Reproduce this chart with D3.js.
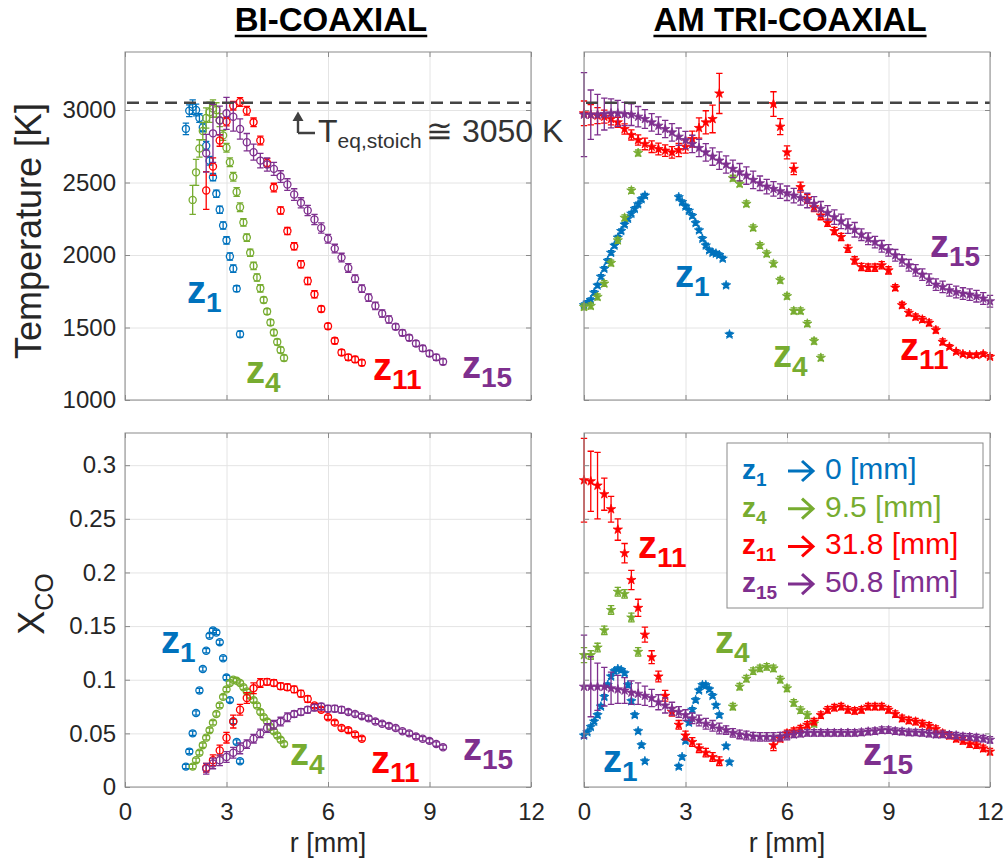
<!DOCTYPE html>
<html>
<head>
<meta charset="utf-8">
<script src="https://cdn.jsdelivr.net/npm/d3@7"></script>
<style>
  body { margin: 0; background: #fff; }
  svg { display: block; }
  text { font-family: "Liberation Sans", Arial, sans-serif; }
</style>
</head>
<body>
<div id="container"></div>
<script>
// ---- ticks / constants ----
const X_TICKS = [0, 3, 6, 9, 12];
const T_TICKS = [1000, 1500, 2000, 2500, 3000];
const XCO_TICKS = [0, 0.05, 0.1, 0.15, 0.2, 0.25, 0.3];
const T_STOICH = 3050;

// ---- BI-COAXIAL temperature [r, T, err] ----
const biT_z1 = [[1.8,2870,40],[1.9,2995,40],[2.0,3020,50],[2.1,3000,40],[2.2,2945,30],[2.3,2880,30],[2.4,2754,30],[2.5,2650,30],[2.6,2537,25],[2.7,2422,25],[2.8,2312,25],[2.9,2204,25],[3.0,2101,25],[3.1,1990,25],[3.2,1906,25],[3.3,1768,20],[3.4,1454,20]];
const biT_z4 = [[2.0,2380,100],[2.1,2570,90],[2.2,2735,60],[2.3,2855,60],[2.4,2945,70],[2.5,2985,70],[2.6,3010,60],[2.7,3000,50],[2.8,2930,45],[2.9,2825,35],[3.0,2740,30],[3.1,2640,30],[3.2,2540,30],[3.3,2435,30],[3.4,2330,30],[3.5,2225,25],[3.6,2120,25],[3.7,2015,25],[3.8,1925,25],[3.9,1845,25],[4.0,1770,25],[4.1,1690,20],[4.2,1610,20],[4.3,1535,20],[4.4,1465,20],[4.5,1400,20],[4.6,1345,20],[4.7,1290,20]];
const biT_z11 = [[2.4,2445,130],[2.6,2610,60],[2.8,2790,40],[3.0,2920,30],[3.2,3030,30],[3.4,3055,30],[3.6,2995,30],[3.8,2915,30],[4.0,2790,30],[4.2,2635,30],[4.4,2465,30],[4.6,2307,25],[4.8,2165,25],[5.0,2060,25],[5.2,1936,25],[5.4,1821,25],[5.6,1729,25],[5.8,1628,20],[6.0,1509,20],[6.2,1408,20],[6.4,1328,20],[6.6,1294,20],[6.8,1280,20],[7.0,1257,20]];
const biT_z15 = [[2.4,2702,130],[2.6,2839,200],[2.8,2927,100],[3.0,2977,110],[3.2,2954,100],[3.4,2869,70],[3.6,2778,60],[3.8,2709,55],[4.0,2651,50],[4.2,2624,45],[4.4,2594,45],[4.6,2541,40],[4.8,2486,40],[5.0,2417,40],[5.2,2360,35],[5.4,2307,35],[5.6,2245,35],[5.8,2186,35],[6.0,2112,30],[6.2,2044,30],[6.4,1982,30],[6.6,1911,30],[6.8,1837,25],[7.0,1768,25],[7.2,1706,25],[7.4,1649,25],[7.6,1596,25],[7.8,1555,25],[8.0,1505,20],[8.2,1463,20],[8.4,1429,20],[8.6,1390,20],[8.8,1356,20],[9.0,1321,20],[9.2,1294,20],[9.4,1264,20]];

// ---- AM TRI-COAXIAL temperature [r, T, err] ----
const amT_z1 = [[0,1654,15],[0.1,1670,15],[0.2,1690,15],[0.3,1740,15],[0.4,1790,15],[0.5,1850,15],[0.6,1905,15],[0.7,1960,15],[0.8,2015,15],[0.9,2065,15],[1.0,2120,15],[1.1,2165,15],[1.2,2210,15],[1.3,2250,15],[1.4,2285,15],[1.5,2318,15],[1.6,2350,15],[1.7,2385,15],[1.8,2410,15],[2.8,2399,15],[2.9,2365,15],[3.0,2335,15],[3.1,2305,15],[3.2,2270,15],[3.3,2220,15],[3.4,2170,15],[3.5,2112,15],[3.6,2066,15],[3.7,2032,15],[3.8,2016,15],[3.9,2010,15],[4.0,2000,15],[4.1,1975,15],[4.2,1791,15],[4.3,1452,15]];
const amT_z4 = [[0,1642,20],[0.2,1649,20],[0.4,1711,20],[0.6,1803,20],[0.8,1945,20],[1.0,2101,20],[1.2,2257,20],[1.4,2445,20],[1.6,2704,20],[4.4,2530,20],[4.6,2491,20],[4.8,2353,20],[5.0,2188,20],[5.2,2066,20],[5.4,2009,20],[5.6,1940,20],[5.8,1826,20],[6.0,1716,20],[6.2,1615,20],[6.4,1615,20],[6.6,1527,20],[6.8,1406,20],[7.0,1291,20]];
const amT_z11 = [[0,2977,85],[0.2,2968,70],[0.4,2961,55],[0.6,2954,45],[0.8,2938,40],[1.0,2915,35],[1.2,2869,35],[1.4,2828,35],[1.6,2793,35],[1.8,2766,40],[2.0,2747,40],[2.2,2731,40],[2.4,2720,40],[2.6,2708,40],[2.8,2724,45],[3.0,2747,45],[3.2,2800,55],[3.4,2876,70],[3.6,2915,80],[3.8,2938,95],[4.0,3114,138],[5.6,3041,85],[5.8,2885,55],[6.0,2708,45],[6.2,2594,40],[6.4,2468,35],[6.6,2387,30],[6.8,2330,30],[7.0,2273,30],[7.2,2222,25],[7.4,2165,25],[7.6,2124,25],[7.8,2043,25],[8.0,1963,25],[8.2,1917,25],[8.4,1913,25],[8.6,1913,25],[8.8,1929,25],[9.0,1894,25],[9.2,1775,20],[9.4,1654,20],[9.6,1601,20],[9.8,1573,20],[10.0,1555,20],[10.2,1532,20],[10.4,1482,20],[10.6,1401,20],[10.8,1367,15],[11.0,1333,15],[11.2,1316,15],[11.4,1310,15],[11.6,1310,15],[11.8,1316,15],[12.0,1298,15]];
const amT_z15 = [[0,2968,290],[0.2,2968,170],[0.4,2968,140],[0.6,2972,110],[0.8,2977,100],[1.0,2977,90],[1.2,2972,80],[1.4,2968,75],[1.6,2954,70],[1.8,2938,65],[2.0,2915,60],[2.2,2892,60],[2.4,2869,60],[2.6,2846,60],[2.8,2816,60],[3.0,2793,60],[3.2,2766,60],[3.4,2738,60],[3.6,2708,60],[3.8,2679,60],[4.0,2651,60],[4.2,2624,60],[4.4,2594,60],[4.6,2571,60],[4.8,2548,60],[5.0,2518,60],[5.2,2495,50],[5.4,2472,50],[5.6,2456,50],[5.8,2440,50],[6.0,2426,50],[6.2,2410,50],[6.4,2394,50],[6.6,2376,50],[6.8,2353,50],[7.0,2319,50],[7.2,2291,50],[7.4,2261,50],[7.6,2232,50],[7.8,2199,50],[8.0,2174,50],[8.2,2140,40],[8.4,2112,40],[8.6,2089,40],[8.8,2060,40],[9.0,2032,40],[9.2,1998,40],[9.4,1963,40],[9.6,1929,40],[9.8,1894,40],[10.0,1865,40],[10.2,1830,40],[10.4,1796,40],[10.6,1780,40],[10.8,1757,40],[11.0,1745,40],[11.2,1734,40],[11.4,1727,40],[11.6,1716,40],[11.8,1700,40],[12.0,1681,40]];

// ---- BI-COAXIAL X_CO [r, X, err] ----
const biX_z1 = [[1.8,0.019,0.002],[1.9,0.033,0.002],[2.0,0.050,0.002],[2.1,0.069,0.002],[2.2,0.090,0.002],[2.3,0.110,0.002],[2.4,0.127,0.002],[2.5,0.141,0.002],[2.6,0.146,0.002],[2.7,0.144,0.002],[2.8,0.135,0.002],[2.9,0.120,0.002],[3.0,0.102,0.002],[3.1,0.081,0.002],[3.2,0.061,0.002],[3.3,0.042,0.002],[3.4,0.024,0.002]];
const biX_z4 = [[2.0,0.019,0.002],[2.1,0.025,0.002],[2.2,0.032,0.002],[2.3,0.039,0.002],[2.4,0.046,0.002],[2.5,0.053,0.002],[2.6,0.060,0.002],[2.7,0.068,0.002],[2.8,0.076,0.002],[2.9,0.084,0.002],[3.0,0.091,0.002],[3.1,0.097,0.002],[3.2,0.100,0.002],[3.3,0.099,0.002],[3.4,0.097,0.002],[3.5,0.093,0.002],[3.6,0.089,0.002],[3.7,0.085,0.002],[3.8,0.081,0.002],[3.9,0.076,0.002],[4.0,0.070,0.002],[4.1,0.065,0.002],[4.2,0.061,0.002],[4.3,0.056,0.002],[4.4,0.052,0.002],[4.5,0.048,0.002],[4.6,0.044,0.002],[4.7,0.040,0.002]];
const biX_z11 = [[2.4,0.018,0.004],[2.6,0.025,0.005],[2.8,0.034,0.005],[3.0,0.046,0.005],[3.2,0.061,0.006],[3.4,0.072,0.005],[3.6,0.083,0.005],[3.8,0.092,0.005],[4.0,0.097,0.004],[4.2,0.098,0.003],[4.4,0.097,0.003],[4.6,0.094,0.003],[4.8,0.093,0.003],[5.0,0.091,0.003],[5.2,0.087,0.003],[5.4,0.082,0.003],[5.6,0.076,0.002],[5.8,0.072,0.002],[6.0,0.065,0.002],[6.2,0.060,0.002],[6.4,0.055,0.002],[6.6,0.053,0.002],[6.8,0.049,0.002],[7.0,0.045,0.002]];
const biX_z15 = [[2.4,0.017,0.005],[2.6,0.022,0.005],[2.8,0.025,0.005],[3.0,0.028,0.005],[3.2,0.032,0.005],[3.4,0.036,0.005],[3.6,0.040,0.004],[3.8,0.045,0.004],[4.0,0.050,0.004],[4.2,0.055,0.004],[4.4,0.058,0.004],[4.6,0.061,0.004],[4.8,0.065,0.004],[5.0,0.068,0.003],[5.2,0.070,0.003],[5.4,0.072,0.003],[5.6,0.074,0.003],[5.8,0.075,0.003],[6.0,0.073,0.003],[6.2,0.073,0.003],[6.4,0.072,0.003],[6.6,0.070,0.002],[6.8,0.068,0.002],[7.0,0.066,0.002],[7.2,0.064,0.002],[7.4,0.061,0.002],[7.6,0.059,0.002],[7.8,0.057,0.002],[8.0,0.055,0.002],[8.2,0.052,0.002],[8.4,0.050,0.002],[8.6,0.047,0.002],[8.8,0.045,0.002],[9.0,0.043,0.002],[9.2,0.040,0.002],[9.4,0.037,0.002]];

// ---- AM TRI-COAXIAL X_CO [r, X, err] ----
const amX_z1 = [[0,0.048,0.002],[0.1,0.051,0.002],[0.2,0.056,0.002],[0.3,0.061,0.002],[0.4,0.067,0.002],[0.5,0.075,0.002],[0.6,0.084,0.002],[0.7,0.095,0.002],[0.8,0.103,0.002],[0.9,0.108,0.002],[1.0,0.110,0.002],[1.1,0.109,0.002],[1.2,0.106,0.002],[1.3,0.095,0.002],[1.4,0.080,0.002],[1.5,0.067,0.002],[1.6,0.052,0.002],[1.7,0.039,0.002],[1.8,0.024,0.002],[2.8,0.019,0.002],[2.9,0.028,0.002],[3.0,0.043,0.002],[3.1,0.060,0.002],[3.2,0.072,0.002],[3.3,0.081,0.002],[3.4,0.090,0.002],[3.5,0.095,0.002],[3.6,0.095,0.002],[3.7,0.091,0.002],[3.8,0.085,0.002],[3.9,0.076,0.002],[4.0,0.067,0.002],[4.2,0.038,0.002],[4.3,0.023,0.002]];
const amX_z4 = [[0,0.123,0.007],[0.2,0.123,0.004],[0.4,0.130,0.004],[0.6,0.146,0.004],[0.8,0.165,0.004],[1.0,0.182,0.004],[1.2,0.180,0.004],[1.4,0.158,0.004],[1.6,0.126,0.004],[4.4,0.075,0.003],[4.6,0.0935,0.003],[4.8,0.101,0.003],[5.0,0.108,0.003],[5.2,0.1106,0.003],[5.4,0.112,0.003],[5.6,0.1106,0.003],[5.8,0.100,0.003],[6.0,0.092,0.003],[6.2,0.0785,0.003],[6.4,0.0716,0.003],[6.6,0.067,0.003],[6.8,0.059,0.003]];
const amX_z11 = [[0,0.286,0.039],[0.2,0.285,0.028],[0.4,0.281,0.031],[0.6,0.273,0.015],[0.8,0.259,0.012],[1.0,0.240,0.010],[1.2,0.218,0.009],[1.4,0.193,0.009],[1.6,0.167,0.008],[1.8,0.142,0.007],[2.0,0.121,0.006],[2.2,0.103,0.005],[2.4,0.085,0.005],[2.6,0.070,0.004],[2.8,0.058,0.004],[3.0,0.048,0.004],[3.2,0.042,0.004],[3.4,0.036,0.004],[3.6,0.032,0.004],[3.8,0.028,0.004],[4.0,0.024,0.004],[5.6,0.039,0.005],[5.8,0.045,0.003],[6.0,0.050,0.003],[6.2,0.052,0.003],[6.4,0.0545,0.003],[6.6,0.058,0.003],[6.8,0.061,0.003],[7.0,0.067,0.003],[7.2,0.072,0.003],[7.4,0.074,0.003],[7.6,0.075,0.003],[7.8,0.072,0.003],[8.0,0.071,0.003],[8.2,0.072,0.003],[8.4,0.075,0.003],[8.6,0.075,0.003],[8.8,0.075,0.003],[9.0,0.072,0.003],[9.2,0.068,0.003],[9.4,0.064,0.003],[9.6,0.062,0.003],[9.8,0.061,0.003],[10.0,0.059,0.003],[10.2,0.057,0.003],[10.4,0.054,0.003],[10.6,0.050,0.003],[10.8,0.048,0.003],[11.0,0.045,0.003],[11.2,0.043,0.003],[11.4,0.040,0.003],[11.6,0.039,0.003],[11.8,0.036,0.003],[12.0,0.033,0.003]];
const amX_z15 = [[0,0.0935,0.048],[0.2,0.0935,0.028],[0.4,0.0935,0.022],[0.6,0.0935,0.018],[0.8,0.092,0.015],[1.0,0.091,0.013],[1.2,0.090,0.012],[1.4,0.088,0.011],[1.6,0.087,0.010],[1.8,0.085,0.009],[2.0,0.083,0.008],[2.2,0.079,0.007],[2.4,0.076,0.007],[2.6,0.073,0.006],[2.8,0.070,0.005],[3.0,0.067,0.005],[3.2,0.064,0.005],[3.4,0.062,0.005],[3.6,0.059,0.005],[3.8,0.057,0.005],[4.0,0.0545,0.005],[4.2,0.053,0.004],[4.4,0.0505,0.004],[4.6,0.049,0.004],[4.8,0.048,0.004],[5.0,0.047,0.004],[5.2,0.0467,0.004],[5.4,0.0467,0.004],[5.6,0.0467,0.004],[5.8,0.047,0.004],[6.0,0.048,0.004],[6.2,0.049,0.003],[6.4,0.0498,0.003],[6.6,0.0505,0.003],[6.8,0.0505,0.003],[7.0,0.0505,0.003],[7.2,0.0505,0.003],[7.4,0.0505,0.003],[7.6,0.0505,0.003],[7.8,0.0505,0.003],[8.0,0.0505,0.003],[8.2,0.051,0.003],[8.4,0.0517,0.003],[8.6,0.052,0.003],[8.8,0.053,0.003],[9.0,0.053,0.003],[9.2,0.052,0.003],[9.4,0.0517,0.003],[9.6,0.051,0.003],[9.8,0.0508,0.003],[10.0,0.0505,0.003],[10.2,0.0498,0.003],[10.4,0.049,0.003],[10.6,0.049,0.003],[10.8,0.0486,0.003],[11.0,0.048,0.003],[11.2,0.047,0.003],[11.4,0.0467,0.003],[11.6,0.046,0.003],[11.8,0.045,0.003],[12.0,0.044,0.003]];

const SERIES = ["z1", "z4", "z11", "z15"];
const COLORS = { z1: "#0072BD", z4: "#77AC30", z11: "#FF0000", z15: "#7E2F8E" };
const LEGEND_VALUES = ["0 [mm]", "9.5 [mm]", "31.8 [mm]", "50.8 [mm]"];

const WIDTH = 1007;
const HEIGHT = 865;
const FRAME = "#8a8a8a";
const GRID = "#e4e4e4";
const INK = "#262626";

const svg = d3
  .select("div#container")
  .append("svg")
  .attr("width", WIDTH)
  .attr("height", HEIGHT);

function drawPanel(opts) {
  const x = d3.scaleLinear([0, 12], opts.xRange);
  const y = d3.scaleLinear(opts.yDomain, opts.yRange);
  const [x0, x1] = opts.xRange;
  const [y0, y1] = opts.yRange;
  const g = svg.append("g");

  // grid
  g.append("g")
    .attr("transform", `translate(0, ${y0})`)
    .call(d3.axisBottom(x).tickValues(X_TICKS).tickSize(-(y0 - y1)).tickFormat(""))
    .call((a) => a.select(".domain").remove())
    .call((a) => a.selectAll("line").attr("stroke", GRID));
  g.append("g")
    .attr("transform", `translate(${x0}, 0)`)
    .call(d3.axisLeft(y).tickValues(opts.yTicks).tickSize(-(x1 - x0)).tickFormat(""))
    .call((a) => a.select(".domain").remove())
    .call((a) => a.selectAll("line").attr("stroke", GRID));

  // data
  const sym = d3
    .symbol()
    .type(opts.marker === "circle" ? d3.symbolCircle : d3.symbolStar)
    .size(opts.marker === "circle" ? 40 : 27);
  const cap = 3.2;

  opts.series.forEach((data, i) => {
    const color = COLORS[SERIES[i]];
    const s = g.append("g").attr("class", SERIES[i]);
    const bars = s.append("g").attr("stroke", color).attr("stroke-width", 1.3).attr("fill", "none");
    bars.selectAll("path")
      .data(data)
      .join("path")
      .attr("d", (d) => {
        const cx = x(d[0]);
        const lo = y(d[1] - d[2]);
        const hi = y(d[1] + d[2]);
        return `M${cx},${lo}V${hi}M${cx - cap},${hi}H${cx + cap}M${cx - cap},${lo}H${cx + cap}`;
      });
    s.append("g")
      .selectAll("path")
      .data(data)
      .join("path")
      .attr("transform", (d) => `translate(${x(d[0])}, ${y(d[1])})`)
      .attr("d", sym)
      .attr("fill", opts.marker === "circle" ? "none" : color)
      .attr("stroke", color)
      .attr("stroke-width", opts.marker === "circle" ? 1.3 : 0.8);
  });

  if (opts.dashed) {
    g.append("line")
      .attr("x1", x0 + 2)
      .attr("x2", x1)
      .attr("y1", y(T_STOICH))
      .attr("y2", y(T_STOICH))
      .attr("stroke", "#444")
      .attr("stroke-width", 2.6)
      .attr("stroke-dasharray", "12,7");
  }

  // frame + inward ticks on every side
  g.append("rect")
    .attr("x", x0)
    .attr("y", y1)
    .attr("width", x1 - x0)
    .attr("height", y0 - y1)
    .attr("fill", "none")
    .attr("stroke", FRAME);

  const tickStyle = (a) => {
    a.select(".domain").remove();
    a.selectAll("line").attr("stroke", FRAME);
    a.selectAll("text")
      .attr("fill", INK)
      .style("font-size", "24px")
      .style("font-family", '"Liberation Sans", Arial, sans-serif');
  };
  const fmt = d3.format("~g");

  g.append("g")
    .attr("transform", `translate(0, ${y0})`)
    .call(d3.axisBottom(x).tickValues(X_TICKS).tickSizeInner(-5).tickSizeOuter(0)
      .tickPadding(16).tickFormat(opts.showX ? fmt : ""))
    .call(tickStyle);
  g.append("g")
    .attr("transform", `translate(0, ${y1})`)
    .call(d3.axisTop(x).tickValues(X_TICKS).tickSizeInner(-5).tickSizeOuter(0).tickFormat(""))
    .call(tickStyle);
  g.append("g")
    .attr("transform", `translate(${x0}, 0)`)
    .call(d3.axisLeft(y).tickValues(opts.yTicks).tickSizeInner(-5).tickSizeOuter(0)
      .tickPadding(9).tickFormat(opts.showY ? fmt : ""))
    .call(tickStyle);
  g.append("g")
    .attr("transform", `translate(${x1}, 0)`)
    .call(d3.axisRight(y).tickValues(opts.yTicks).tickSizeInner(-5).tickSizeOuter(0).tickFormat(""))
    .call(tickStyle);

  return { x, y, g };
}

const LEFT = [125, 531];
const RIGHT = [584, 990];
const TOP = [400, 52];
const BOTTOM = [787, 433];

drawPanel({ xRange: LEFT, yRange: TOP, yDomain: [1000, 3400], yTicks: T_TICKS, showY: true, showX: false,
  marker: "circle", series: [biT_z1, biT_z4, biT_z11, biT_z15], dashed: true });
drawPanel({ xRange: RIGHT, yRange: TOP, yDomain: [1000, 3400], yTicks: T_TICKS, showY: false, showX: false,
  marker: "star", series: [amT_z1, amT_z4, amT_z11, amT_z15], dashed: true });
drawPanel({ xRange: LEFT, yRange: BOTTOM, yDomain: [0, 0.33], yTicks: XCO_TICKS, showY: true, showX: true,
  marker: "circle", series: [biX_z1, biX_z4, biX_z11, biX_z15] });
drawPanel({ xRange: RIGHT, yRange: BOTTOM, yDomain: [0, 0.33], yTicks: XCO_TICKS, showY: false, showX: true,
  marker: "star", series: [amX_z1, amX_z4, amX_z11, amX_z15] });

// ---- z labels ----
function zLabel(px, py, key, size, subSize, dy) {
  const t = svg.append("text")
    .attr("x", px)
    .attr("y", py)
    .attr("fill", COLORS[key])
    .attr("font-weight", "bold")
    .style("font-size", `${size}px`);
  t.append("tspan").text("z");
  t.append("tspan").attr("dy", dy).style("font-size", `${subSize}px`).text(key.slice(1));
  return t;
}
const LABELS = [
  [187, 303, "z1"], [246, 383, "z4"], [373, 380, "z11"], [462, 378, "z15"],
  [675, 287, "z1"], [773, 367, "z4"], [900, 360, "z11"], [930, 257, "z15"],
  [161, 653, "z1"], [290, 765, "z4"], [371, 773, "z11"], [463, 760, "z15"],
  [603, 772, "z1"], [715, 653, "z4"], [638, 558, "z11"], [863, 765, "z15"],
];
LABELS.forEach(([px, py, k]) => zLabel(px, py, k, 38, 28, 9));

// ---- titles ----
[["BI-COAXIAL", (LEFT[0] + LEFT[1]) / 2 + 3], ["AM TRI-COAXIAL", (RIGHT[0] + RIGHT[1]) / 2 + 3]].forEach(([t, cx]) => {
  const txt = svg.append("text")
    .attr("x", cx)
    .attr("y", 31)
    .attr("text-anchor", "middle")
    .attr("font-weight", "bold")
    .attr("fill", "#000")
    .style("font-size", "33px")
    .text(t);
  const w = txt.node().getComputedTextLength();
  svg.append("line")
    .attr("x1", cx - w / 2)
    .attr("x2", cx + w / 2)
    .attr("y1", 36)
    .attr("y2", 36)
    .attr("stroke", "#000")
    .attr("stroke-width", 2.4);
});

// ---- axis labels ----
svg.append("text")
  .attr("transform", "translate(41, 231) rotate(-90)")
  .attr("text-anchor", "middle")
  .attr("fill", INK)
  .style("font-size", "36px")
  .text("Temperature [K]");

const xco = svg.append("text")
  .attr("transform", "translate(44, 604) rotate(-90)")
  .attr("text-anchor", "middle")
  .attr("fill", INK)
  .style("font-size", "36px");
xco.append("tspan").text("X");
xco.append("tspan").attr("dy", 9).style("font-size", "25px").text("CO");

[LEFT, RIGHT].forEach((r) => {
  svg.append("text")
    .attr("x", (r[0] + r[1]) / 2)
    .attr("y", 852)
    .attr("text-anchor", "middle")
    .attr("fill", INK)
    .style("font-size", "27px")
    .text("r [mm]");
});

// ---- T_eq,stoich annotation ----
svg.append("path")
  .attr("d", "M298,133V119M298,133H315")
  .attr("fill", "none")
  .attr("stroke", "#404040")
  .attr("stroke-width", 2.4);
svg.append("path")
  .attr("d", "M292.5,121L298,111.5L303.5,121Z")
  .attr("fill", "#404040");
const ann = svg.append("text").attr("x", 318).attr("y", 142).attr("fill", "#333").style("font-size", "32px");
ann.append("tspan").text("T");
ann.append("tspan").attr("dy", 6).style("font-size", "21px").text("eq,stoich");
ann.append("tspan").attr("x", 426).attr("dy", -6).text("\u2245 3050 K");

// ---- legend ----
const lg = svg.append("g");
lg.append("rect")
  .attr("x", 727)
  .attr("y", 443)
  .attr("width", 256)
  .attr("height", 165)
  .attr("fill", "#fff")
  .attr("stroke", FRAME);
SERIES.forEach((k, i) => {
  const by = 479 + i * 37.7;
  const t = lg.append("text")
    .attr("x", 742)
    .attr("y", by)
    .attr("fill", COLORS[k])
    .attr("font-weight", "bold")
    .style("font-size", "28px");
  t.append("tspan").text("z");
  t.append("tspan").attr("dy", 7).style("font-size", "19px").text(k.slice(1));
  const ay = by - 8;
  lg.append("path")
    .attr("d", `M788,${ay}H812M802,${ay - 10}L813,${ay}L802,${ay + 10}`)
    .attr("fill", "none")
    .attr("stroke", COLORS[k])
    .attr("stroke-width", 3);
  lg.append("text")
    .attr("x", 825)
    .attr("y", by)
    .attr("fill", COLORS[k])
    .style("font-size", "30px")
    .text(LEGEND_VALUES[i]);
});
</script>
</body>
</html>
